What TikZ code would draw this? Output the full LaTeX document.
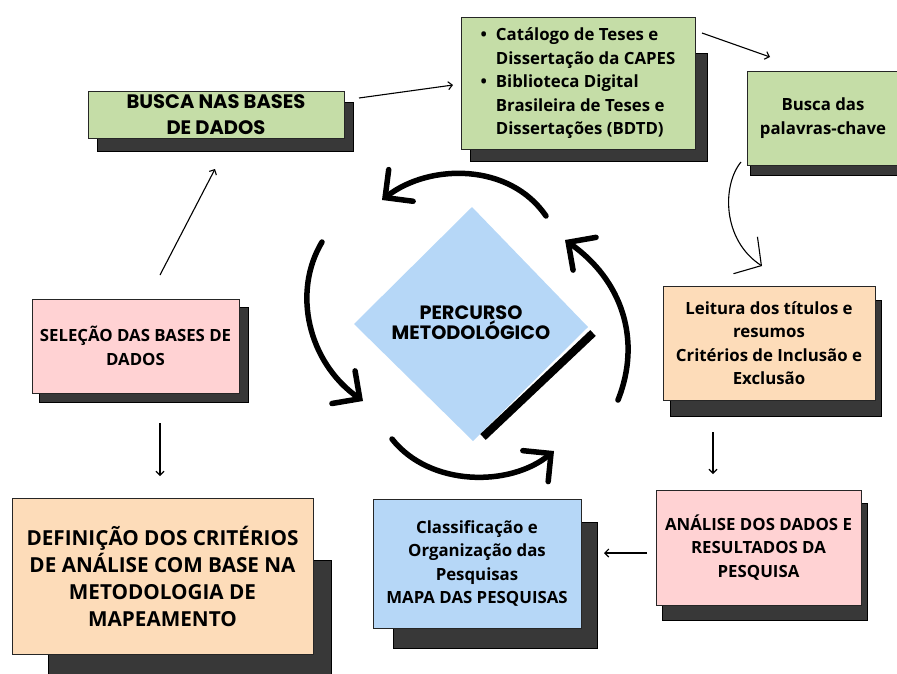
\documentclass[tikz,border=0pt]{standalone}
\usepackage{fontspec}
\setmainfont{Open Sans}
\newfontfamily\headfont{Poppins}
\usetikzlibrary{arrows.meta}
\definecolor{boxgreen}{HTML}{C5DDA7}
\definecolor{boxpink}{HTML}{FFD2D3}
\definecolor{boxpeach}{HTML}{FDDCB9}
\definecolor{boxblue}{HTML}{B6D7F7}
\definecolor{shade}{HTML}{383838}
\tikzset{
    box/.style={draw=black!85, line width=0.9pt, align=center, inner sep=0pt,
        font=\bfseries\fontsize{16.8}{23.5}\selectfont},
    shadowbox/.style={fill=shade, draw=black, line width=0.9pt},
    thinarrow/.style={line width=1.1pt, -{Straight Barb[length=4pt,width=8pt]}},
    cyclearrow/.style={line width=5.5pt, line cap=round,
        -{Straight Barb[length=20pt,width=40pt,line cap=round]}}
}
\begin{document}
\begin{tikzpicture}[x=1pt, y=-1pt]
    \useasboundingbox (0,0) rectangle (897,673);
    % Shadows
    \foreach \xa/\ya/\xb/\yb in {97/102/353/151, 470/53/707/161, 750/80/905/175,
        670/300/881/416, 662/503/867/620, 393/522/597/648, 48/560/331/680, 39/307/248/402}
    {
    \filldraw[shadowbox] (\xa,\ya) rectangle (\xb,\yb);
    }
    % Boxes
    \node[box, fill=boxgreen, minimum width=256pt, minimum height=47pt,
        font=\headfont\bfseries\fontsize{19.5}{26}\selectfont] (busca) at (216,114.5)
        {BUSCA NAS BASES\\DE DADOS};
    \node[box, fill=boxgreen, minimum width=234pt, minimum height=132pt, align=left] (catalogo) at (578,83)
        {\begin{tabular}{@{}l@{\hspace{9pt}}l@{}}
        \textbullet & Catálogo de Teses e\\
                    & Dissertação da CAPES\\
        \textbullet & Biblioteca Digital\\
                    & Brasileira de Teses e\\
                    & Dissertações (BDTD)
        \end{tabular}};
    \node[box, fill=boxgreen, minimum width=152pt, minimum height=94pt] (palavras) at (823,118)
        {Busca das\\palavras-chave};
    \node[box, fill=boxpeach, minimum width=212pt, minimum height=114pt] (leitura) at (769,343)
        {Leitura dos títulos e\\resumos\\Critérios de Inclusão e\\Exclusão};
    \node[box, fill=boxpink, minimum width=205pt, minimum height=115pt] (analise) at (758.5,547.5)
        {ANÁLISE DOS DADOS E\\RESULTADOS DA\\PESQUISA};
    \node[box, fill=boxblue, minimum width=208pt, minimum height=129pt] (classificacao) at (477,563.5)
        {Classificação e\\Organização das\\Pesquisas\\MAPA DAS PESQUISAS};
    \node[box, fill=boxpeach, minimum width=301pt, minimum height=156pt,
        font=\bfseries\fontsize{20.7}{27}\selectfont] (definicao) at (162.5,576)
        {DEFINIÇÃO DOS CRITÉRIOS\\DE ANÁLISE COM BASE NA\\METODOLOGIA DE\\MAPEAMENTO};
    \node[box, fill=boxpink, minimum width=207pt, minimum height=94pt] (selecao) at (135.5,346)
        {SELEÇÃO DAS BASES DE\\DADOS};
    % Centre diamond
    \fill[boxblue] (472,207) -- (588,327) -- (473,441) -- (354,324) -- cycle;
    \draw[line width=8pt] (593,333) -- (483,437);
    \node[align=center, font=\headfont\bfseries\fontsize{19.3}{17.5}\selectfont] (percurso) at (471,323)
        {PERCURSO\\METODOLÓGICO};
    % Cycle arrows
    \draw[cyclearrow] (546,216) .. controls (510,163) and (430,163) .. (382,200);
    \draw[cyclearrow] (322,242) .. controls (292,292) and (308,362) .. (363,401);
    \draw[cyclearrow] (392,439) .. controls (430,487) and (510,487) .. (554,451);
    \draw[cyclearrow] (618,400) .. controls (642,340) and (622,280) .. (565,240);
    % Arrow ends
    \coordinate (s1) at (160,275);  \coordinate (s2) at (215,169);
    \coordinate (b1) at (359,98);   \coordinate (b2) at (453,85);
    \coordinate (c1) at (702,33);   \coordinate (c2) at (770,57);
    \coordinate (p1) at (741,162);  \coordinate (p2) at (762,266);
    \coordinate (l1) at (713,432);  \coordinate (l2) at (713,474);
    \coordinate (r1) at (647,553);  \coordinate (r2) at (604,553);
    \coordinate (d1) at (160,423);  \coordinate (d2) at (160,476);
    % Connectors
    \draw[thinarrow] (s1) -- (s2);
    \draw[thinarrow] (b1) -- (b2);
    \draw[thinarrow] (c1) -- (c2);
    \draw[line width=1.1pt, -{Straight Barb[length=19pt,width=44pt]}]
        (p1) .. controls (722,185) and (722,240) .. (p2);
    \draw[thinarrow] (l1) -- (l2);
    \draw[thinarrow] (r1) -- (r2);
    \draw[thinarrow] (d1) -- (d2);
\end{tikzpicture}
\end{document}
